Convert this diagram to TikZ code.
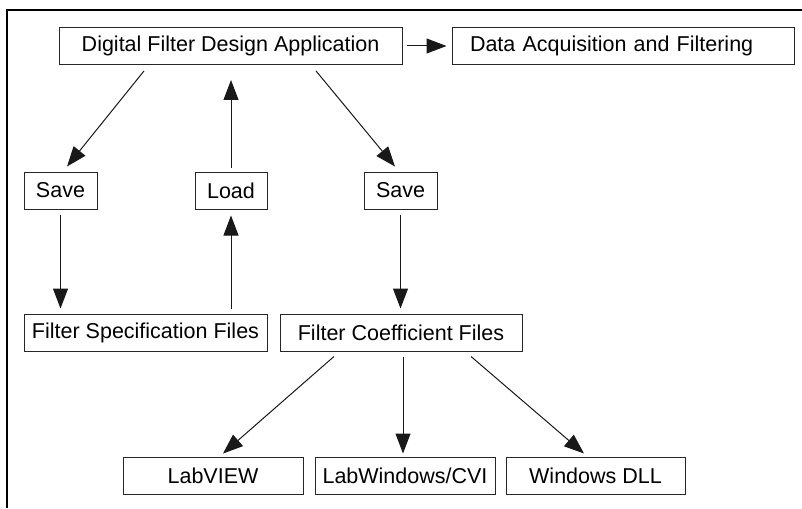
\documentclass[tikz,border=0pt]{standalone}
\usepackage{fontspec}
\setmainfont{Liberation Sans}
\usetikzlibrary{arrows.meta}
\begin{document}
\begin{tikzpicture}[x=1pt, y=-1pt,
		box/.style={draw=black!85, line width=1pt, minimum height=37pt, inner sep=0pt,
			font=\fontsize{21.5}{24}\selectfont},
		link/.style={draw=black!90, line width=1pt, -{Triangle[length=20pt,width=15pt]}}]
					\useasboundingbox (0,0) rectangle (802,508);
					\draw[line width=2pt] (802,10) -- (6.5,10) -- (6.5,508);
					
					\node[box, minimum width=343pt] (design) at (230.5,46) {Digital Filter Design Application};
					\node[box, minimum width=342pt, text width=306pt, align=left] (daq) at (623,46) {Data Acquisition and Filtering};
					\node[box, minimum width=73pt] (saveSpec) at (60.5,190.5) {Save};
					\node[box, minimum width=72pt] (load) at (231,190.5) {Load};
					\node[box, minimum width=73pt] (saveCoef) at (400.5,190.5) {Save};
					\node[box, minimum width=243pt] (specFiles) at (145.5,332.5) {Filter Specification Files};
					\node[box, minimum width=242pt] (coefFiles) at (401,332.5) {Filter Coefficient Files};
					\node[box, minimum width=180pt] (labview) at (213,475.5) {LabVIEW};
					\node[box, minimum width=180pt] (cvi) at (405,475.5) {LabWindows/CVI};
					\node[box, minimum width=179pt] (dll) at (595.5,475.5) {Windows DLL};
					
					\draw[link, shorten <=4.5pt, shorten >=5pt] (design.east) -- (daq.west);
					\draw[link, shorten <=7.7pt, shorten >=6.4pt] ([xshift=-81.7pt]design.south) -- ([xshift=2.5pt]saveSpec.north);
					\draw[link, shorten <=7.7pt, shorten >=6.4pt] ([xshift=80.6pt]design.south) -- ([xshift=-1.4pt]saveCoef.north);
					\draw[link, shorten <=4pt, shorten >=15pt] (load.north) -- (load.north |- design.south);
					\draw[link, shorten <=5pt, shorten >=5pt] (saveSpec.south) -- (saveSpec.south |- specFiles.north);
					\draw[link, shorten <=5pt, shorten >=6pt] (load.south |- specFiles.north) -- (load.south);
					\draw[link, shorten <=5pt, shorten >=5pt] (saveCoef.south) -- (saveCoef.south |- coefFiles.north);
					\draw[link, shorten <=7.6pt, shorten >=4.5pt] ([xshift=-61.3pt]coefFiles.south) -- ([xshift=6.6pt]labview.north);
					\draw[link, shorten <=5pt, shorten >=3pt] ([xshift=2pt]coefFiles.south) -- ([xshift=-2pt]cvi.north);
					\draw[link, shorten <=7.7pt, shorten >=4.6pt] ([xshift=64.2pt]coefFiles.south) -- ([xshift=-8pt]dll.north);
				\end{tikzpicture}
\end{document}
